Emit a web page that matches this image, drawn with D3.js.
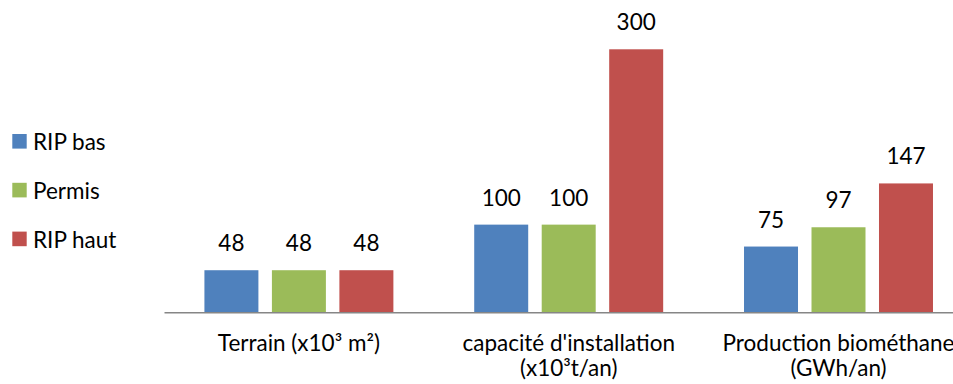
<!DOCTYPE html>
<html><head><meta charset="utf-8">
<script src="https://cdn.jsdelivr.net/npm/d3@7/dist/d3.min.js"></script>
<style>
html,body{margin:0;padding:0;background:#fff;}
svg{display:block;font-family:Lato,"Open Sans",sans-serif;}
</style></head>
<body><svg id="c" width="953" height="384"></svg>
<script>
const categories = ["Terrain (x10³ m²)", "capacité d'installation (x10³t/an)", "Production biométhane (GWh/an)"];
const categoryLines = [["Terrain (x10³ m²)"], ["capacité d'installation", "(x10³t/an)"], ["Production biométhane", "(GWh/an)"]];
const seriesNames = ["RIP bas", "Permis", "RIP haut"];
const ripBas = [48, 100, 75];
const permis = [48, 100, 97];
const ripHaut = [48, 300, 147];
const seriesColors = ["#4F81BD", "#9BBB59", "#C0504D"];

const seriesValues = [ripBas, permis, ripHaut];
const svg = d3.select("#c");
const baseY = 312.3;
const fs = 22.5;
const y = d3.scaleLinear().domain([0, 350]).range([baseY, baseY - 350 * 0.8767]);
const x0 = d3.scaleBand().domain(categories).range([164, 973.4]).paddingInner(0).paddingOuter(0);
const gw = x0.bandwidth();
const x1 = d3.scaleBand().domain(seriesNames).range([gw * 0.1498, gw * 0.8502]).paddingInner(0.2).paddingOuter(0);

const groups = svg.append("g").selectAll("g").data(categories).join("g")
  .attr("transform", d => `translate(${x0(d)},0)`);

groups.each(function(cat, ci) {
  const g = d3.select(this);
  seriesNames.forEach((s, si) => {
    const v = seriesValues[si][ci];
    g.append("rect")
      .attr("x", x1(s)).attr("width", x1.bandwidth())
      .attr("y", y(v)).attr("height", y(0) - y(v))
      .attr("fill", seriesColors[si]);
    g.append("text")
      .attr("x", x1(s) + x1.bandwidth() / 2)
      .attr("y", y(v) - 19)
      .attr("text-anchor", "middle")
      .attr("font-size", fs)
      .attr("fill", "#000")
      .text(v);
  });
});

const axis = d3.axisBottom(x0).tickSize(0).tickSizeOuter(0).tickFormat("");
const ag = svg.append("g").attr("transform", `translate(0,${baseY})`).call(axis);
ag.select(".domain").attr("stroke", "#868686").attr("stroke-width", 1.6);

ag.selectAll(".tick").each(function(d, i) {
  const t = d3.select(this).select("text").attr("y", 0).attr("dy", null)
    .attr("font-size", fs).attr("fill", "#000").attr("font-family", "Lato, 'Open Sans', sans-serif");
  t.text(null);
  categoryLines[i].forEach((line, li) => {
    t.append("tspan").attr("x", 0).attr("y", 39 + li * 24.5).text(line);
  });
});

const leg = svg.append("g");
seriesNames.forEach((s, i) => {
  const yy = 134 + i * 48.8;
  leg.append("rect").attr("x", 12.3).attr("y", yy).attr("width", 14.4).attr("height", 14.6).attr("fill", seriesColors[i]);
  leg.append("text").attr("x", 33).attr("y", yy + 16).attr("font-size", fs).attr("fill", "#000").text(s);
});
</script></body></html>
